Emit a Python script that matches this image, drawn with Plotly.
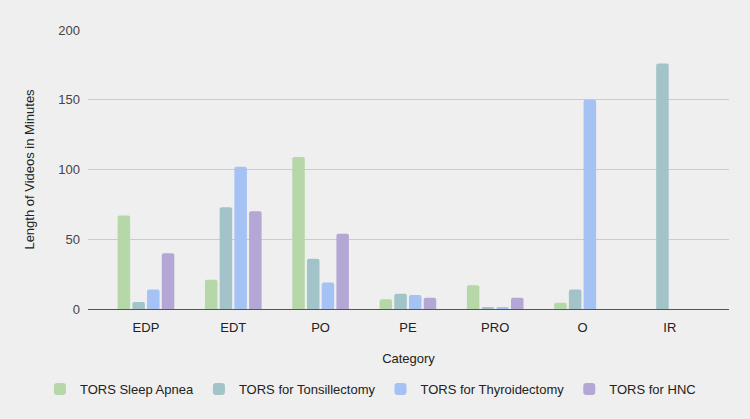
import plotly.graph_objects as go

categories = ["EDP", "EDT", "PO", "PE", "PRO", "O", "IR"]
sleep_apnea = [67, 21, 109, 7, 17, 4.5, 0]
tonsillectomy = [5, 73, 36, 11, 1.5, 14, 176]
thyroidectomy = [14, 102, 19, 10, 1.5, 150, 0]
hnc = [40, 70, 54, 8, 8, 0, 0]

series = [
    ("TORS Sleep Apnea", sleep_apnea, "#b6d7a8"),
    ("TORS for Tonsillectomy", tonsillectomy, "#a2c4c9"),
    ("TORS for Thyroidectomy", thyroidectomy, "#a4c2f4"),
    ("TORS for HNC", hnc, "#b4a7d6"),
]

fig = go.Figure()
for name, vals, color in series:
    fig.add_trace(go.Bar(x=categories, y=vals, name=name,
                         marker=dict(color=color, line=dict(width=0), cornerradius=2)))

font = "Liberation Sans, Arial, sans-serif"
fig.update_layout(
    width=750, height=419,
    paper_bgcolor="#efefef", plot_bgcolor="#efefef",
    margin=dict(l=88, r=21, t=30, b=110, autoexpand=False),
    barmode="group", bargap=0.326, bargroupgap=0.15,
    font=dict(family=font, size=13, color="#333333"),
    xaxis=dict(title=dict(text="Category", font=dict(size=13, color="#222222"), standoff=20),
               range=[-0.664, 6.678],
               showgrid=False, showline=True, linecolor="#555555", linewidth=1,
               tickfont=dict(size=13, color="#222222"), ticks="", ticklabelstandoff=6),
    yaxis=dict(title=dict(text="Length of Videos in Minutes", font=dict(size=13, color="#222222"), standoff=20),
               range=[0, 200], tickvals=[0, 50, 100, 150, 200],
               showgrid=True, gridcolor="#cccccc", gridwidth=1, zeroline=False,
               tickfont=dict(size=13, color="#444444"), ticks="", showline=False,
               ticklabelstandoff=7),
    legend=dict(orientation="h", x=-0.075, xanchor="left",
                y=(309 - 389) / 279, yanchor="middle",
                font=dict(size=13, color="#222222"), itemwidth=30, bgcolor="rgba(0,0,0,0)"),
)

fig.write_html("out.html")
